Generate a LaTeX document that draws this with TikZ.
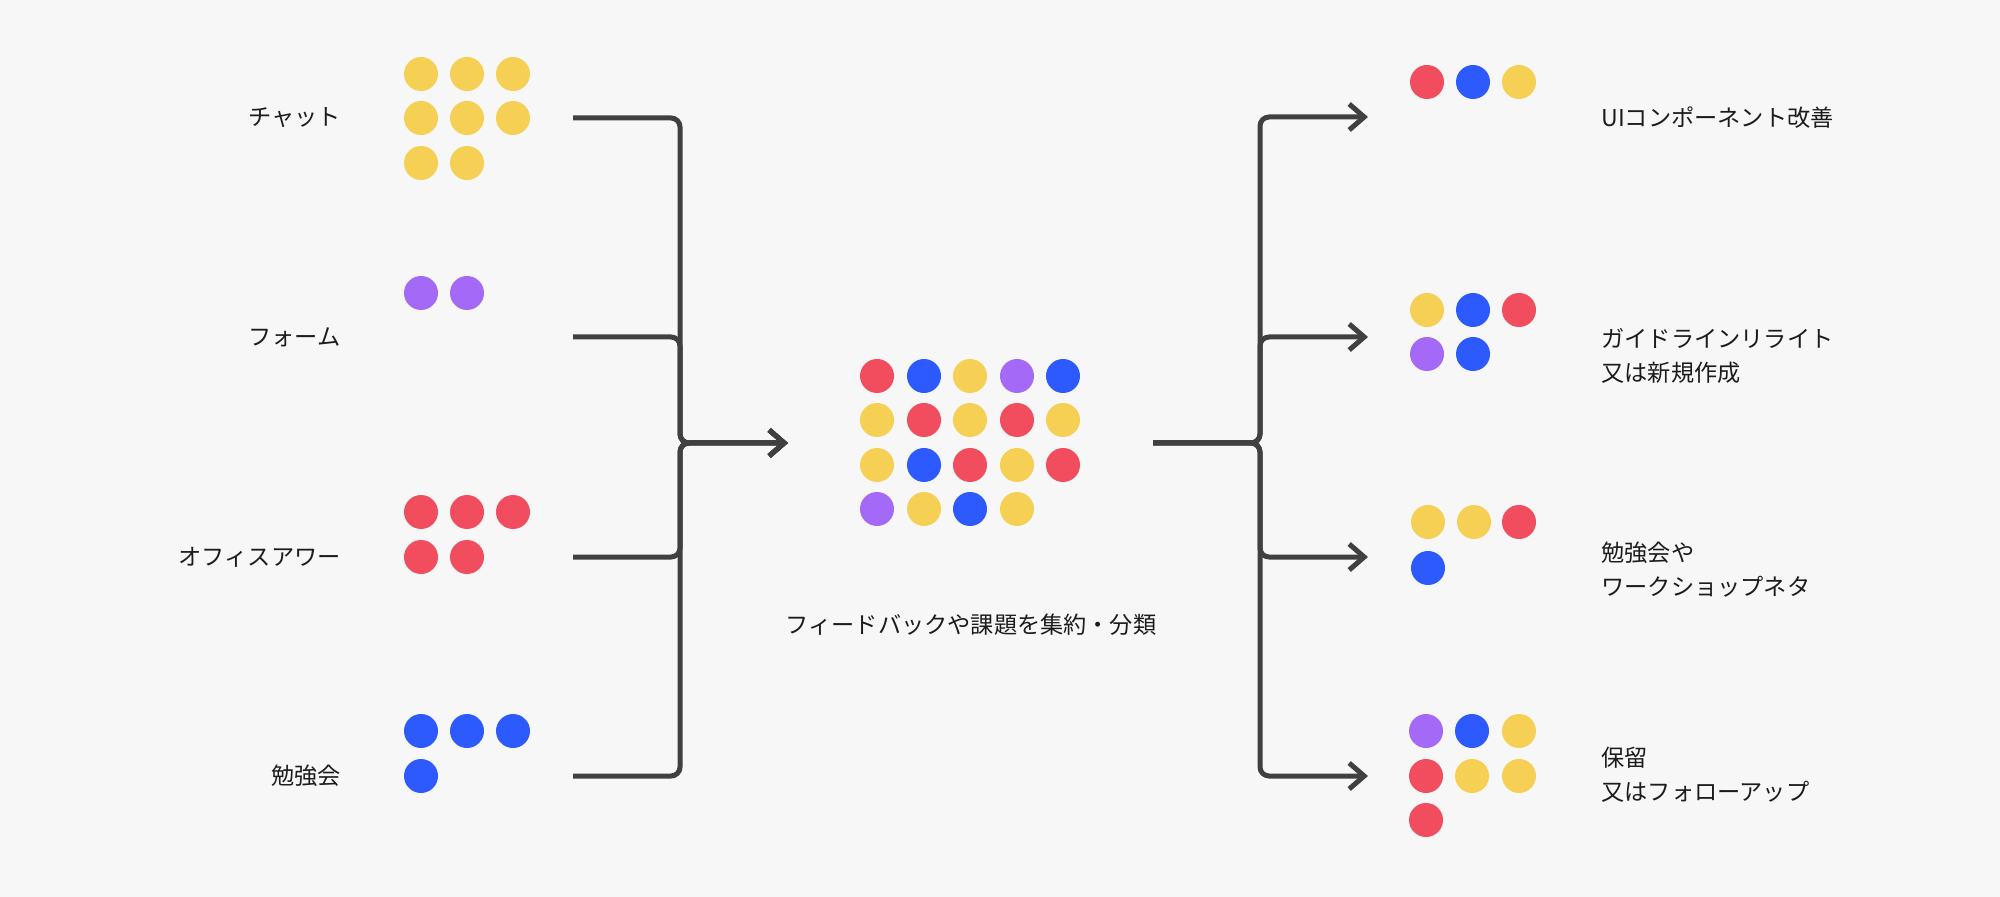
\documentclass[tikz,border=0pt]{standalone}
\usepackage{fontspec}
\setmainfont{Noto Sans CJK JP}
\usetikzlibrary{arrows.meta}
\definecolor{bgc}{HTML}{F7F7F7}
\definecolor{linec}{HTML}{404040}
\definecolor{textc}{HTML}{1C1C1C}
\definecolor{cy}{HTML}{F6D054}
\definecolor{cr}{HTML}{F24D5E}
\definecolor{cb}{HTML}{2C5AFF}
\definecolor{cp}{HTML}{A469F6}
\tikzset{
  dot/.style={circle, minimum size=17pt, inner sep=0pt, draw=none},
  lbl/.style={text=textc, inner sep=0pt, font=\fontsize{11.6pt}{17pt}\selectfont},
  conn/.style={draw=linec, line width=2.5pt, rounded corners=4.5pt,
    -{Straight Barb[length=7.5pt,width=13pt,line width=2.5pt]}}
}
\begin{document}
\begin{tikzpicture}[x=0.5pt,y=-0.5pt]
\useasboundingbox (0,0) rectangle (2000,897);
\fill[bgc] (0,0) rectangle (2000,897);

% left labels
\node[lbl, anchor=east] (chat) at (341,118) {チャット};
\node[lbl, anchor=east] (form) at (341,337) {フォーム};
\node[lbl, anchor=east] (office) at (341,557) {オフィスアワー};
\node[lbl, anchor=east] (study) at (341,776) {勉強会};

% left dots
\foreach \x/\y [count=\i] in {421/74,467/74,513/74,421/118,467/118,513/118,421/163,467/163}
  \node[dot, fill=cy] (chatdot\i) at (\x,\y) {};
\foreach \x/\y [count=\i] in {421/293,467/293}
  \node[dot, fill=cp] (formdot\i) at (\x,\y) {};
\foreach \x/\y [count=\i] in {421/512,467/512,513/512,421/557,467/557}
  \node[dot, fill=cr] (officedot\i) at (\x,\y) {};
\foreach \x/\y [count=\i] in {421/731,467/731,513/731,421/776}
  \node[dot, fill=cb] (studydot\i) at (\x,\y) {};

% center dots
\foreach \x/\y/\c [count=\i] in {
  877/376/cr, 924/376/cb, 970/376/cy, 1017/376/cp, 1063/376/cb,
  877/420/cy, 924/420/cr, 970/420/cy, 1017/420/cr, 1063/420/cy,
  877/465/cy, 924/465/cb, 970/465/cr, 1017/465/cy, 1063/465/cr,
  877/509/cp, 924/509/cy, 970/509/cb, 1017/509/cy}
  \node[dot, fill=\c] (centerdot\i) at (\x,\y) {};
\node[lbl] (caption) at (971,625) {フィードバックや課題を集約・分類};

% right dots
\foreach \x/\y/\c [count=\i] in {1427/82/cr, 1473/82/cb, 1519/82/cy}
  \node[dot, fill=\c] (uidot\i) at (\x,\y) {};
\foreach \x/\y/\c [count=\i] in {1427/310/cy, 1473/310/cb, 1519/310/cr, 1427/354/cp, 1473/354/cb}
  \node[dot, fill=\c] (guidedot\i) at (\x,\y) {};
\foreach \x/\y/\c [count=\i] in {1428/522/cy, 1474/522/cy, 1519/522/cr, 1428/568/cb}
  \node[dot, fill=\c] (workdot\i) at (\x,\y) {};
\foreach \x/\y/\c [count=\i] in {1426/731/cp, 1472/731/cb, 1519/731/cy, 1426/776/cr, 1472/776/cy, 1519/776/cy, 1426/820/cr}
  \node[dot, fill=\c] (holddot\i) at (\x,\y) {};

% right labels
\node[lbl, anchor=west] (ui) at (1601,118) {UIコンポーネント改善};
\node[lbl, anchor=west, align=left] (guide) at (1601,356) {ガイドラインリライト\\又は新規作成};
\node[lbl, anchor=west, align=left] (work) at (1601,570) {勉強会や\\ワークショップネタ};
\node[lbl, anchor=west, align=left] (hold) at (1601,775) {保留\\又はフォローアップ};

% connector end points
\coordinate (s1) at (573,118);
\coordinate (s2) at (573,337);
\coordinate (s3) at (573,557);
\coordinate (s4) at (573,776);
\coordinate (cin) at (788,443);
\coordinate (cout) at (1153,443);
\coordinate (t1) at (1368,117);
\coordinate (t2) at (1368,337);
\coordinate (t3) at (1368,557);
\coordinate (t4) at (1368,776);

% left merge
\foreach \s in {s1,s2,s3,s4}
  \draw[conn] (\s) -- (\s -| 680,0) -- (680,443) -- (cin);

% right split
\foreach \t in {t1,t2,t3,t4}
  \draw[conn] (cout) -- (1260,443) -- (\t -| 1260,0) -- (\t);
\end{tikzpicture}
\end{document}
